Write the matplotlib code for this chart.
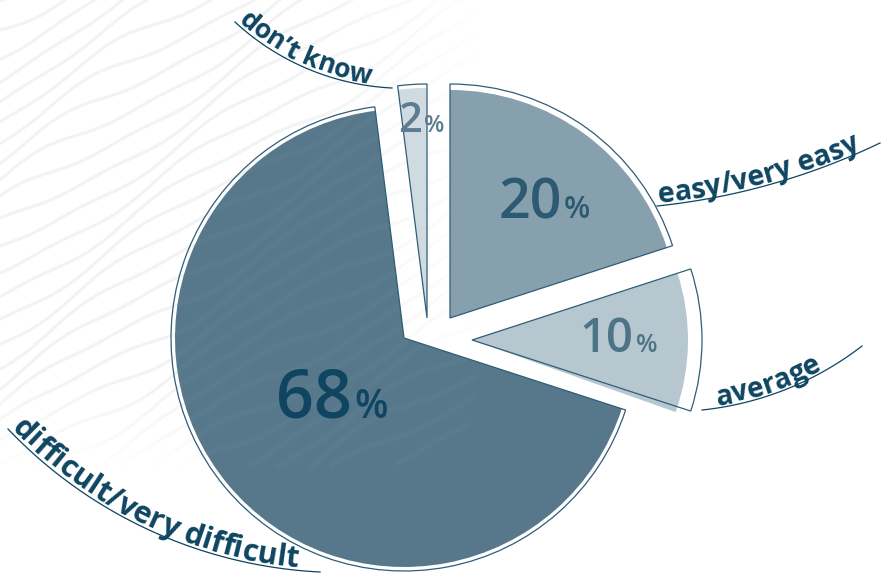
import numpy as np
import matplotlib.pyplot as plt
from matplotlib.patches import Wedge
from matplotlib.collections import LineCollection
from matplotlib.font_manager import FontProperties, findfont, get_font

W, H = 884, 577

# survey answers, drawn clockwise from 12 o'clock
categories = ["easy/very easy", "average", "difficult/very difficult", "don\u2019t know"]
shares = [20, 10, 68, 2]

fill_colors = ["#87a0ad", "#b7c7d0", "#57788b", "#cfdae1"]
number_colors = ["#2c5a73", "#4e7387", "#0f4560", "#5c7d90"]
edge_color = "#2f5e77"
label_color = "#0e4561"
FONT = "Open Sans"

# layout of each exploded slice (pixels, origin top-left)
apex = [(450, 318), (472, 340), (404, 338), (427, 318)]
r_out = [234, 230, 233, 234]
r_fill = [228, 216, 229, 230]
fill_twist = [0, -1.5, 0, 0]
num_size = [40, 34, 48, 30]
pct_size = [22, 18, 28, 17]
num_place = [(150, 41.8), (162, -4.2), (95, 237), (186, 91.5)]

# curved category labels: chord ends, sag, text start and length along the arc
label_arcs = [((657, 206), (880, 143), 10, 2, 210),
              ((702, 410), (862, 346), 12, 16, 112),
              ((8, 429), (320, 572), 33, 2, 325),
              ((235, 22), (392, 88), 15, 2, 148)]


def P(x, y):
    return np.array([x, H - y], float)


def arc_through(p1, p2, sag):
    m = (p1 + p2) / 2
    d = p2 - p1
    L = np.hypot(*d)
    n = np.array([-d[1], d[0]]) / L
    if n[1] < 0:
        n = -n
    R = (L ** 2 / 4 + sag ** 2) / (2 * sag)
    c = m + n * (R - sag)
    a1 = np.arctan2(p1[1] - c[1], p1[0] - c[0])
    a2 = np.arctan2(p2[1] - c[1], p2[0] - c[0])
    return c, R, a1, a2


def curved_label(ax, text, p1, p2, sag, start, length, gap=2.5):
    c, R, a1, a2 = arc_through(P(*p1), P(*p2), sag)
    t = np.linspace(a1, a2, 120)
    ax.plot(c[0] + R * np.cos(t), c[1] + R * np.sin(t), color=label_color, lw=0.9)

    prop = FontProperties(family=FONT, weight="bold", size=10)
    font = get_font(findfont(prop))
    font.set_size(10, 100)
    adv = np.array([font.load_char(ord(ch)).linearHoriAdvance / 65536 for ch in text])
    size = 10 * length / adv.sum()
    adv = adv * size / 10
    rt = R - gap
    centers = start + np.cumsum(adv) - adv / 2
    for ch, s in zip(text, centers):
        th = a1 + s / rt
        ax.text(c[0] + rt * np.cos(th), c[1] + rt * np.sin(th), ch,
                rotation=np.degrees(th) + 90, rotation_mode="anchor",
                ha="center", va="baseline", fontsize=size, fontweight="bold",
                family=FONT, color=label_color, zorder=5)


fig = plt.figure(figsize=(W / 100, H / 100), dpi=100)
ax = fig.add_axes([0, 0, 1, 1])
ax.set_xlim(0, W)
ax.set_ylim(0, H)
ax.axis("off")

# faint wavy texture in the background
xs = np.linspace(-60, 560, 500)
segs, cols = [], []
for k in range(-8, 34):
    ys = 30 + k * 22 - 0.58 * xs + 8 * np.sin(xs / 45 + k * 0.55) + 3 * np.sin(xs / 20 + k * 1.3)
    pts = np.column_stack([xs, H - ys])
    a = 0.35 * np.clip((480 - xs) / 180, 0, 1) * np.clip((470 - ys) / 90, 0, 1)
    for i in range(len(xs) - 1):
        if a[i] > 0.01:
            segs.append(pts[i:i + 2])
            cols.append((0.86, 0.87, 0.88, a[i]))
ax.add_collection(LineCollection(segs, colors=cols, linewidths=2.2, zorder=0))

edges = 90 - 3.6 * np.concatenate([[0], np.cumsum(shares)])
for i, v in enumerate(shares):
    t1, t2 = edges[i + 1], edges[i]
    c = P(*apex[i])
    fill = Wedge(c, r_fill[i], t1 + fill_twist[i], t2, facecolor=fill_colors[i],
                 edgecolor="none", zorder=2)
    ax.add_patch(fill)
    if i == 2:
        # lighter ripples inside the big slice
        lc = LineCollection(segs, colors=[(1, 1, 1, 0.025)] * len(segs),
                            linewidths=4, zorder=2.5)
        ax.add_collection(lc)
        lc.set_clip_path(fill)
    ax.add_patch(Wedge(c, r_out[i], t1, t2, facecolor="none", edgecolor=edge_color,
                       lw=0.9, zorder=3))

    d, ang = num_place[i]
    pos = c + d * np.array([np.cos(np.radians(ang)), np.sin(np.radians(ang))])
    ax.text(pos[0], pos[1], f"{v}", ha="right", va="baseline", fontsize=num_size[i],
            fontweight="semibold", family=FONT, color=number_colors[i], zorder=4)
    ax.text(pos[0] + 2, pos[1], "%", ha="left", va="baseline", fontsize=pct_size[i],
            fontweight="semibold", family=FONT, color=number_colors[i], zorder=4)

for name, (p1, p2, sag, start, length) in zip(categories, label_arcs):
    curved_label(ax, name, p1, p2, sag, start, length)

fig.savefig("out.png", dpi=100)
